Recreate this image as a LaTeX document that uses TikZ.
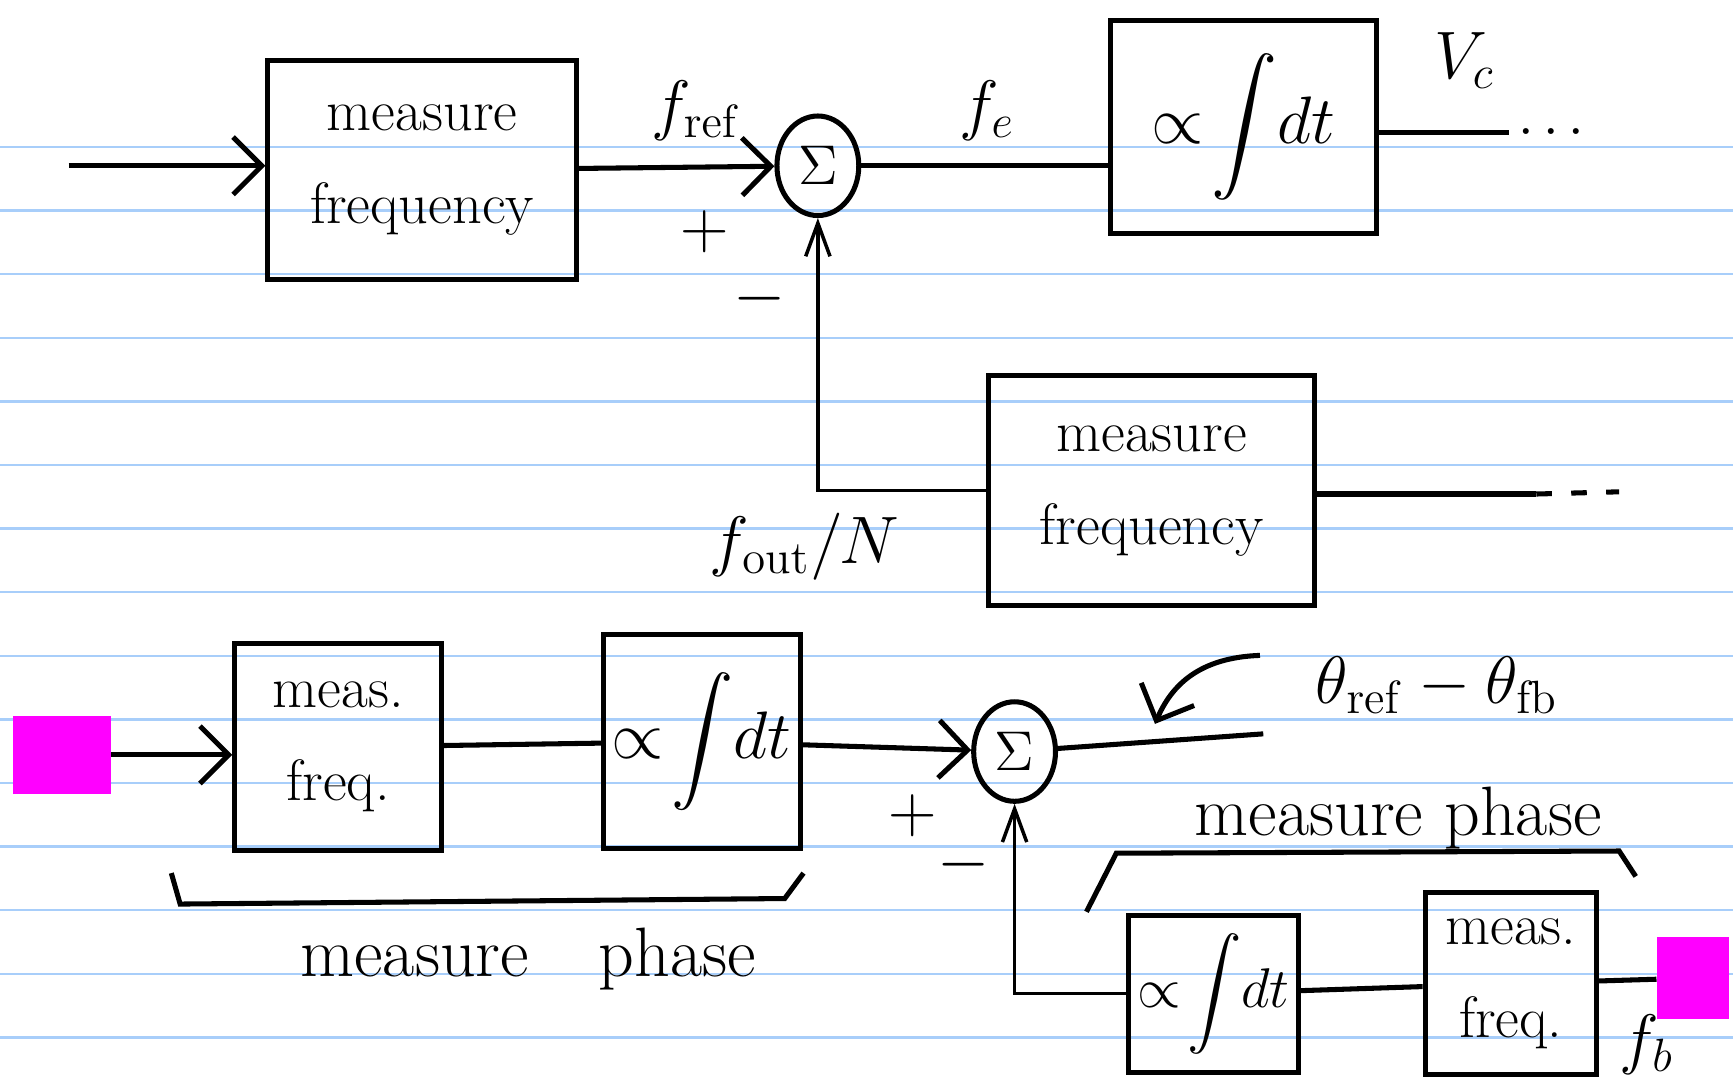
\documentclass[tikz,border=0pt]{standalone}
\usepackage{amsmath,amssymb}
\usepackage{tikz}
\usetikzlibrary{arrows.meta,shapes.geometric}
\definecolor{RuleBlue}{RGB}{168,206,250}
\definecolor{Marker}{HTML}{FF00FF}

\begin{document}
\begin{tikzpicture}[x=0.01cm,y=-0.01cm,
  every node/.style={font=\fontsize{15}{24}\selectfont},
  blk/.style={draw, line width=1.3pt, align=center, inner sep=0pt},
  sum/.style={draw, ellipse, line width=1.3pt, minimum width=0.74cm,
              minimum height=0.9cm, inner sep=0pt},
  patch/.style={fill=Marker, inner sep=0pt},
  lbl/.style={font=\fontsize{18}{22}\selectfont},
  wire/.style={line width=1.3pt},
  fbwire/.style={line width=0.9pt, -{Straight Barb[length=3mm,width=2.2mm]}},
  rule/.style={RuleBlue, line width=0.6pt},
  >={Straight Barb[length=2.6mm,width=5.2mm]}]
  \fill[white] (0,0) rectangle (1568,983);
  \useasboundingbox (0,0) rectangle (1568,983);
  % ruled paper
  \foreach \k in {0,...,14}
    \draw[rule] (0,{133+57.55*\k}) -- (1568,{133+57.55*\k});

  % frequency loop
  \node[blk, minimum width=2.79cm, minimum height=1.98cm] (mf1) at (382,154) {measure\\frequency};
  \node[sum] (s1) at (740,150) {$\Sigma$};
  \node[blk, minimum width=2.4cm, minimum height=1.92cm,
        font=\fontsize{17}{20}\selectfont] (int1) at (1125,115) {$\displaystyle\propto\!\int\! dt$};
  \node[blk, minimum width=2.95cm, minimum height=2.08cm] (mf2) at (1042,444) {measure\\frequency};
  \coordinate (in1) at (62,150);
  \coordinate (vc) at (1365,120);
  \coordinate (o3) at (1390,447);
  \coordinate (o3e) at (1465,445);

  \draw[wire,->] (in1) -- (in1 -| mf1.west);
  \draw[wire,->] (mf1) -- (s1);
  \draw[wire] (s1) -- (s1 -| int1.west);
  \draw[wire] (vc -| int1.east) -- (vc) node[right, inner sep=2pt] (dots) {$\cdots$};
  \draw[fbwire] (mf2.west) -- (mf2.west -| s1) -- (s1.south);
  \draw[wire] (mf2.east |- o3) -- (o3);
  \draw[wire, dash pattern=on 4pt off 5pt] (o3) -- (o3e);

  \node[lbl] (fref) at (630,100) {$f_{\mathrm{ref}}$};
  \node[lbl] (p1) at (638,210) {$+$};
  \node[lbl] (m1) at (687,270) {$-$};
  \node[lbl] (fe) at (893,100) {$f_e$};
  \node[lbl] (vclbl) at (1325,55) {$V_c$};
  \node[lbl] (fout) at (728,495) {$f_{\mathrm{out}}/N$};

  % phase loop
  \node[patch, minimum width=0.88cm, minimum height=0.7cm] (src) at (56,683) {};
  \node[blk, minimum width=1.87cm, minimum height=1.87cm] (mp1) at (306,676) {meas.\\freq.};
  \node[blk, minimum width=1.78cm, minimum height=1.93cm,
        font=\fontsize{16}{20}\selectfont] (int2) at (635,671) {$\displaystyle\propto\!\int\! dt$};
  \node[sum] (s2) at (918,680) {$\Sigma$};
  \node[blk, minimum width=1.53cm, minimum height=1.42cm,
        font=\fontsize{14}{18}\selectfont] (int3) at (1098,899) {$\displaystyle\propto\!\int\! dt$};
  \node[blk, minimum width=1.55cm, minimum height=1.65cm] (mp2) at (1367,890) {meas.\\freq.};
  \node[patch, minimum width=0.65cm, minimum height=0.74cm] (fbk) at (1532,885) {};
  \coordinate (th) at (1143,664);
  \coordinate (thl) at (1140,593);
  \coordinate (thp) at (1045,655);

  \draw[wire,->] (src.east) -- (src.east -| mp1.west);
  \draw[wire] (mp1) -- (int2);
  \draw[wire,->] (int2) -- (s2);
  \draw[wire] (s2) -- (th);
  \draw[wire,->] (thl) .. controls (1085,595) and (1060,620) .. (thp);
  \draw[fbwire] (int3.west) -- (int3.west -| s2) -- (s2.south);
  \draw[wire] (int3) -- (mp2);
  \draw[wire] (mp2) -- (fbk);

  % braces
  \draw[wire] (155,790) -- (163,818) -- (710,813) -- (727,790);
  \draw[wire] (983,825) -- (1010,772) -- (1465,770) -- (1480,793);

  \node[lbl] (th12) at (1300,620) {$\theta_{\mathrm{ref}} - \theta_{\mathrm{fb}}$};
  \node[lbl] (p2) at (826,738) {$+$};
  \node[lbl] (m2) at (872,782) {$-$};
  \node[lbl] (ph1) at (478,868) {measure\quad phase};
  \node[lbl] (ph2) at (1265,740) {measure phase};
  \node[lbl] (fb) at (1490,945) {$f_b$};
\end{tikzpicture}
\end{document}
